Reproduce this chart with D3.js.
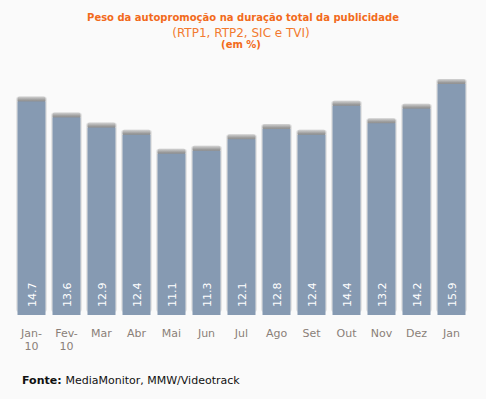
<!DOCTYPE html>
<html>
<head>
<meta charset="utf-8">
<script src="https://cdn.jsdelivr.net/npm/d3@7"></script>
<style>
  body { margin: 0; background: #fafafa; }
  svg { display: block; font-family: Verdana, "DejaVu Sans", sans-serif; }
</style>
</head>
<body>
<script>
var months = ["Jan-\n10", "Fev-\n10", "Mar", "Abr", "Mai", "Jun", "Jul", "Ago", "Set", "Out", "Nov", "Dez", "Jan"];
var values = [14.7, 13.6, 12.9, 12.4, 11.1, 11.3, 12.1, 12.8, 12.4, 14.4, 13.2, 14.2, 15.9];

var width = 486,
    height = 399;

var svg = d3.select("body").append("svg")
    .attr("width", width)
    .attr("height", height);

svg.append("rect").attr("width", width).attr("height", height).attr("fill", "#fafafa");

var defs = svg.append("defs");
var cap = defs.append("linearGradient").attr("id", "cap").attr("x1", 0).attr("y1", 0).attr("x2", 0).attr("y2", 1);
cap.append("stop").attr("offset", "0%").attr("stop-color", "#d4d4d4");
cap.append("stop").attr("offset", "60%").attr("stop-color", "#9a9a9a");
cap.append("stop").attr("offset", "100%").attr("stop-color", "#8a8a8a");

// titles
svg.append("text").attr("x", 243).attr("y", 21).attr("text-anchor", "middle")
    .attr("font-size", 10).attr("font-weight", "bold").attr("fill", "#f26a1b")
    .text("Peso da autopromoção na duração total da publicidade");
svg.append("text").attr("x", 241).attr("y", 37).attr("text-anchor", "middle")
    .attr("font-size", 12).attr("fill", "#f27a30")
    .text("(RTP1, RTP2, SIC e TVI)");
svg.append("text").attr("x", 241).attr("y", 48).attr("text-anchor", "middle")
    .attr("font-size", 10).attr("font-weight", "bold").attr("fill", "#f26a1b")
    .text("(em %)");

var x = d3.scaleBand()
    .domain(months)
    .range([14, 469])
    .paddingInner(0.2)
    .paddingOuter(0.1);

var y = d3.scaleLinear()
    .domain([0, 15.9])
    .range([315, 84]);

var bar = svg.append("g").selectAll("g")
    .data(values)
    .enter().append("g")
    .attr("transform", function(d, i) { return "translate(" + x(months[i]) + ",0)"; });

// soft shadow round the bar
bar.append("rect")
    .attr("x", -1.5)
    .attr("y", function(d) { return y(d) - 5; })
    .attr("width", x.bandwidth() + 3)
    .attr("height", function(d) { return y(0) - y(d) + 2; })
    .attr("rx", 3)
    .attr("fill", "#e4e4e4");

bar.append("rect")
    .attr("x", 0)
    .attr("y", function(d) { return y(d) - 5; })
    .attr("width", x.bandwidth())
    .attr("height", 6)
    .attr("rx", 2)
    .attr("fill", "url(#cap)");

bar.append("rect")
    .attr("x", 0)
    .attr("y", function(d) { return y(d); })
    .attr("width", x.bandwidth())
    .attr("height", function(d) { return y(0) - y(d); })
    .attr("fill", "#869ab2");

bar.append("text")
    .attr("transform", "translate(" + (x.bandwidth() / 2 + 4) + ",307) rotate(-90)")
    .attr("font-size", 11)
    .attr("fill", "#ffffff")
    .text(function(d) { return d.toFixed(1); });

// month labels
var lab = svg.append("g").selectAll("text")
    .data(months)
    .enter().append("text")
    .attr("x", function(d) { return x(d) + x.bandwidth() / 2; })
    .attr("y", 337)
    .attr("text-anchor", "middle")
    .attr("font-size", 11)
    .attr("fill", "#8a7f78");

lab.selectAll("tspan")
    .data(function(d) { return d.split("\n"); })
    .enter().append("tspan")
    .attr("x", function() { return d3.select(this.parentNode).attr("x"); })
    .attr("dy", function(d, i) { return i ? 13 : 0; })
    .text(function(d) { return d; });

var src = svg.append("text").attr("x", 22).attr("y", 384)
    .attr("font-size", 11).attr("fill", "#111");
src.append("tspan").attr("font-weight", "bold").text("Fonte: ");
src.append("tspan").text("MediaMonitor, MMW/Videotrack");
</script>
</body>
</html>
